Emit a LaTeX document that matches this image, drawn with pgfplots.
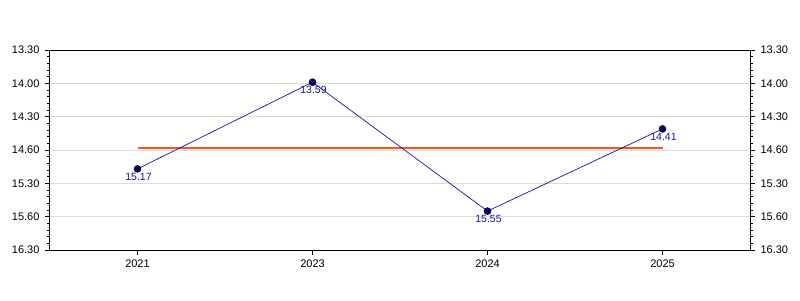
\documentclass[border=0pt]{standalone}
\usepackage{pgfplots}
\pgfplotsset{compat=1.18}
\usepackage{fontspec}
\setmainfont{Liberation Sans}
\definecolor{meanorange}{RGB}{255,85,20}
\definecolor{serblue}{RGB}{20,20,170}
\definecolor{marknavy}{RGB}{0,0,110}
\definecolor{labblue}{RGB}{20,20,170}
\definecolor{gridgray}{RGB}{220,220,220}
\begin{document}
\begin{tikzpicture}
\path[use as bounding box] (0pt,0pt) rectangle (800pt,300pt);
\pgfplotsset{
  base/.style={
    at={(50pt,50pt)}, anchor=south west,
    scale only axis, width=700pt, height=200pt,
    xmin=-0.5, xmax=3.5,
    ymin=810, ymax=990, y dir=reverse,
    ytick={810,840,870,900,930,960,990},
    yticklabels={13.30,14.00,14.30,14.60,15.30,15.60,16.30},
    minor y tick num=4,
    tick align=outside,
    major tick length=5pt, minor tick length=3pt,
    tick style={black, line width=0.8pt},
    axis line style={black, line width=1pt},
    /pgf/number format/assume math mode=true,
    tick label style={font=\fontsize{11}{13}\selectfont},
  },
}
\begin{axis}[base,
  xtick={0,1,2,3}, xticklabels={2021,2023,2024,2025},
  xtick pos=bottom, ytick pos=left,
  ymajorgrids, grid style={gridgray, line width=0.6pt},
  yticklabel style={xshift=-2pt},
  xticklabel style={yshift=-1pt},
  nodes near coords,
  point meta=explicit symbolic,
  every node near coord/.append style={font=\fontsize{10.5}{12}\selectfont, text=labblue, anchor=north, yshift=-3pt, xshift=1pt, inner sep=1pt},
]
\addplot[meanorange, line width=2pt, nodes near coords={}] coordinates {(0,898) (3,898)};
\addplot[serblue, line width=0.7pt, mark=*, mark size=3.5pt, mark options={fill=marknavy, draw=black, line width=0.5pt}] coordinates {
  (0,917) [15.17]
  (1,839) [13.59]
  (2,955) [15.55]
  (3,881) [14.41]
};
\end{axis}
\begin{axis}[base,
  xtick=\empty, ytick pos=right, yticklabel pos=right,
  yticklabel style={xshift=2pt},
  axis x line=none, axis y line*=right,
]
\addplot[draw=none] coordinates {(0,900)};
\end{axis}
\end{tikzpicture}
\end{document}
